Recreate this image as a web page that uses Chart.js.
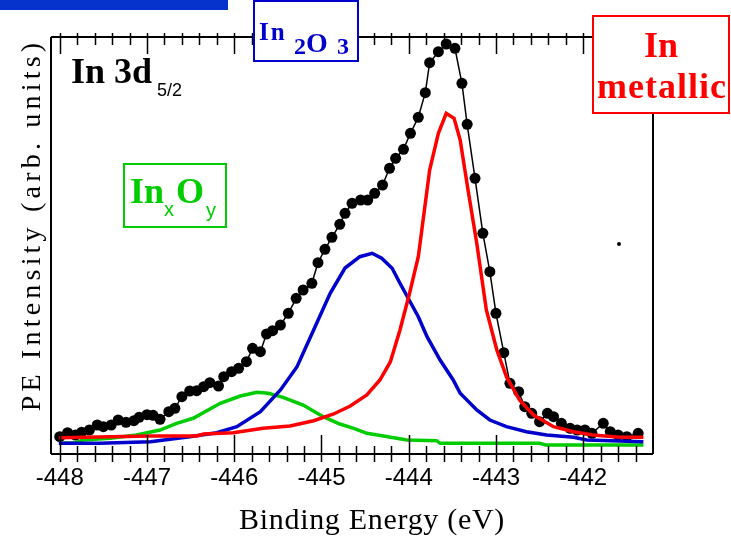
<!DOCTYPE html>
<html>
<head>
<meta charset="utf-8">
<script src="https://cdn.jsdelivr.net/npm/chart.js@4"></script>
<style>
  html, body { margin: 0; padding: 0; background: #fff; }
  #wrap { width: 731px; height: 541px; }
</style>
</head>
<body>
<div id="wrap"><canvas id="xps-chart" width="731" height="541"></canvas></div>
<script>
// measured spectrum (black dots)
const measE = [-448.00, -447.91, -447.82, -447.75, -447.66, -447.57, -447.50, -447.41, -447.33, -447.24,
  -447.15, -447.09, -447.00, -446.93, -446.85, -446.75, -446.68, -446.60, -446.51, -446.43,
  -446.35, -446.28, -446.18, -446.12, -446.03, -445.95, -445.86, -445.79, -445.70, -445.63,
  -445.56, -445.47, -445.38, -445.29, -445.21, -445.11, -445.04, -444.96, -444.88, -444.79,
  -444.73, -444.65, -444.55, -444.47, -444.39, -444.30, -444.22, -444.15, -444.06, -443.98,
  -443.89, -443.81, -443.76, -443.66, -443.57, -443.47, -443.39, -443.33, -443.24, -443.15,
  -443.07, -443.00, -442.91, -442.84, -442.74, -442.67, -442.59, -442.50, -442.41, -442.34,
  -442.25, -442.15, -442.07, -441.98, -441.90, -441.77, -441.69, -441.60, -441.50, -441.37];
const measI = [17.3, 21.3, 19, 21.7, 24, 29, 27.3, 29, 34, 31.7,
  33.3, 36.7, 39.3, 38.7, 34.7, 42.3, 45.7, 57.3, 63, 63.3,
  67.3, 71.3, 68, 77.3, 82.3, 85.7, 92.3, 105.7, 102.3, 120,
  123.3, 129, 140.7, 155.7, 164, 170.7, 191.3, 204.7, 216.7, 229.7,
  240.7, 250.7, 254, 254, 260.7, 269, 285.7, 295.7, 304.7, 320.7,
  336.7, 361.3, 391.3, 402.3, 410, 405.7, 370.7, 329.7, 275.7, 220.7,
  182.3, 140.7, 101.3, 70.7, 62.3, 47.3, 40.7, 32.3, 40.7, 37.3,
  30.7, 25.7, 24, 24, 20.7, 30.7, 22.3, 19, 17.3, 20.7];

// In metallic component (red)
const metalE = [-448.01, -446.96, -446.43, -446.35, -446.01, -445.67, -445.36, -445.09, -444.86, -444.67,
  -444.48, -444.33, -444.21, -444.10, -443.99, -443.89, -443.83, -443.76, -443.66, -443.57,
  -443.48, -443.41, -443.32, -443.22, -443.11, -442.99, -442.88, -442.73, -442.57, -442.34,
  -442.11, -441.89, -441.58, -441.31];
const metalI = [16.3, 18, 18, 20, 21.3, 25.7, 28, 33.3, 40, 48,
  59, 74, 92.3, 124, 160.7, 197.3, 237.3, 284, 320.7, 340.7,
  335.7, 314, 264, 210.7, 144, 104, 77.3, 54, 39, 27.3,
  22.3, 19, 16.7, 16.7];

// In2O3 component (blue)
const oxideE = [-448.01, -447.54, -446.96, -446.51, -446.20, -445.97, -445.70, -445.47, -445.28, -445.09,
  -444.90, -444.73, -444.56, -444.42, -444.31, -444.19, -444.10, -443.89, -443.79, -443.64,
  -443.49, -443.41, -443.22, -443.07, -442.88, -442.65, -442.42, -442.11, -441.96, -441.31];
const oxideI = [10.7, 10.7, 12.3, 17.3, 21.3, 27.3, 42.3, 64, 87.3, 124,
  160.7, 186, 197.3, 200.7, 195.7, 185.7, 170.7, 137.3, 117.3, 94,
  74, 60.7, 44, 34, 27.3, 22.3, 19, 16.7, 14, 12.3];

// InxOy component (green)
const subE = [-448.01, -447.82, -447.73, -447.42, -447.12, -446.85, -446.66, -446.47, -446.16, -445.93,
  -445.74, -445.61, -445.44, -445.21, -444.98, -444.79, -444.63, -444.48, -444.29, -444.02,
  -443.68, -443.64, -442.50, -442.43, -441.31];
const subI = [10.7, 11.3, 14, 15.7, 19, 24, 30.7, 35.7, 50.7, 58,
  61.7, 60.7, 56.7, 49, 37.3, 30, 25.7, 20.7, 18, 14,
  13.3, 10.7, 10.7, 9, 9];

// lone stray point on the right
const strayE = [-441.59];
const strayI = [210];

const xTicks = [-448, -447, -446, -445, -444, -443, -442];

function pts(xs, ys) {
  return xs.map((x, i) => ({ x: x, y: ys[i] }));
}

const serif = "'Liberation Serif', 'Times New Roman', serif";
const sans = "'Liberation Sans', Arial, sans-serif";

// frame, ticks, labels and the colored boxes
const decor = {
  id: "decor",
  afterDraw(chart) {
    const c = chart.ctx;
    const a = chart.chartArea;
    const xs = chart.scales.x;
    c.save();
    c.strokeStyle = "#000";
    c.lineWidth = 2;
    c.beginPath();
    c.moveTo(a.left, a.top); c.lineTo(a.right, a.top);
    c.moveTo(a.left, a.top); c.lineTo(a.left, a.bottom);
    c.moveTo(a.left, a.bottom); c.lineTo(a.right, a.bottom);
    c.moveTo(a.right, a.top); c.lineTo(a.right, a.bottom);
    c.stroke();

    c.lineWidth = 1.5;
    c.beginPath();
    for (let k = 0; k <= 33; k++) {
      const v = -448 + k * 0.2;
      const px = Math.round(xs.getPixelForValue(v)) + 0.5;
      const major = k % 5 === 0;
      c.moveTo(px, a.bottom + 8);
      c.lineTo(px, a.bottom - (major ? 19 : 8));
      c.moveTo(px, a.top - 4);
      c.lineTo(px, a.top + (major ? 17 : 8));
    }
    c.stroke();

    c.fillStyle = "#000";
    c.font = "24px " + sans;
    c.textAlign = "center";
    c.textBaseline = "middle";
    xTicks.forEach(v => c.fillText(String(v), xs.getPixelForValue(v), 478));

    c.font = "30px " + serif;
    c.letterSpacing = "0.7px";
    c.fillText("Binding Energy (eV)", 372, 521);
    c.letterSpacing = "0px";

    c.save();
    c.translate(33, 225);
    c.rotate(-Math.PI / 2);
    c.letterSpacing = "4.2px";
    c.font = "28px " + serif;
    c.fillText("PE Intensity (arb. units)", 0, 0);
    c.restore();

    c.textAlign = "left";
    c.textBaseline = "alphabetic";
    c.font = "bold 36px " + serif;
    c.fillText("In 3d", 71, 83);
    c.font = "18px " + sans;
    c.fillText("5/2", 157, 96);

    // blue strip at very top
    c.fillStyle = "#0533cc";
    c.fillRect(0, 0, 228, 10);

    // In2O3 box
    c.fillStyle = "#fff";
    c.fillRect(253, 0, 106, 62);
    c.strokeStyle = "#0000cc";
    c.lineWidth = 2;
    c.strokeRect(254, 1, 104, 60);
    c.fillStyle = "#0000cc";
    c.font = "bold 25px " + serif;
    c.letterSpacing = "2px";
    c.fillText("In", 259, 40);
    c.letterSpacing = "0px";
    c.font = "bold 24px " + serif;
    c.fillText("2", 294, 54);
    c.font = "bold 28px " + serif;
    c.fillText("O", 306, 52);
    c.font = "bold 24px " + serif;
    c.fillText("3", 337, 54);

    // In metallic box
    c.fillStyle = "#fff";
    c.fillRect(592, 15, 138, 99);
    c.strokeStyle = "#ff0000";
    c.strokeRect(593, 16, 136, 97);
    c.fillStyle = "#ff0000";
    c.font = "bold 36px " + serif;
    c.textAlign = "center";
    c.fillText("In", 661, 57);
    c.letterSpacing = "1px";
    c.fillText("metallic", 662, 98);
    c.letterSpacing = "0px";

    // InxOy box
    c.textAlign = "left";
    c.fillStyle = "#fff";
    c.fillRect(123, 163, 104, 65);
    c.strokeStyle = "#00cc00";
    c.strokeRect(124, 164, 102, 63);
    c.fillStyle = "#00cc00";
    c.font = "bold 36px " + serif;
    c.fillText("In", 130, 203);
    c.fillText("O", 176, 203);
    c.font = "20px " + sans;
    c.fillText("x", 164, 216);
    c.fillText("y", 206, 217);
    c.restore();
  }
};

const ctx = document.getElementById("xps-chart").getContext("2d");

new Chart(ctx, {
  type: "scatter",
  data: {
    datasets: [
      {
        label: "In metallic",
        data: pts(metalE, metalI),
        showLine: true,
        borderColor: "#ff0000",
        borderWidth: 3.5,
        pointRadius: 0,
        tension: 0,
        order: 1
      },
      {
        label: "In2O3",
        data: pts(oxideE, oxideI),
        showLine: true,
        borderColor: "#0000cc",
        borderWidth: 3.5,
        pointRadius: 0,
        order: 2
      },
      {
        label: "InxOy",
        data: pts(subE, subI),
        showLine: true,
        borderColor: "#00cc00",
        borderWidth: 3.5,
        pointRadius: 0,
        order: 3
      },
      {
        label: "Data",
        data: pts(measE, measI),
        showLine: true,
        borderColor: "#000",
        borderWidth: 1.5,
        backgroundColor: "#000",
        pointRadius: 5.5,
        pointBorderWidth: 0,
        order: 4
      },
      {
        label: "stray",
        data: pts(strayE, strayI),
        backgroundColor: "#000",
        pointRadius: 2,
        pointBorderWidth: 0,
        order: 5
      }
    ]
  },
  options: {
    responsive: false,
    animation: false,
    layout: { padding: { left: 51, right: 78, top: 37, bottom: 87 } },
    scales: {
      x: { type: "linear", min: -448.1, max: -441.2, display: false },
      y: { min: 0, max: 417, display: false }
    },
    plugins: {
      legend: { display: false },
      tooltip: { enabled: false }
    }
  },
  plugins: [decor]
});
</script>
</body>
</html>
